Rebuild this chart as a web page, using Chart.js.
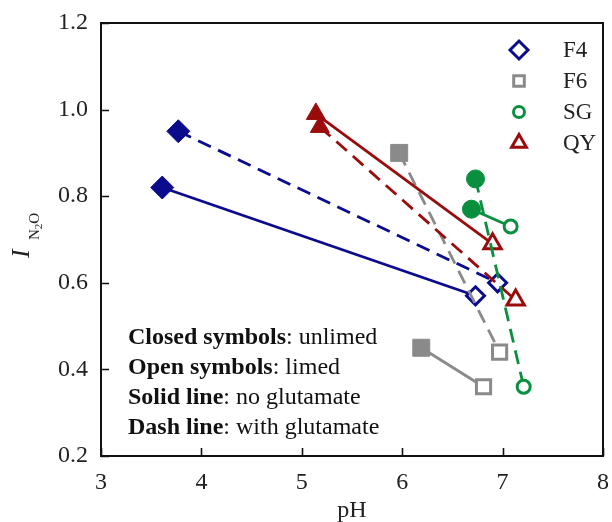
<!DOCTYPE html>
<html>
<head>
<meta charset="utf-8">
<script src="https://cdn.jsdelivr.net/npm/chart.js@4"></script>
<style>
  html, body { margin: 0; padding: 0; background: #fff; }
  #wrap { width: 612px; height: 522px; }
</style>
</head>
<body>
<div id="wrap"><canvas id="c" width="612" height="522"></canvas></div>
<script>
const SERIF = '"Liberation Serif", "DejaVu Serif", "Times New Roman", serif';

// Soils, their colours and marker shapes
const soils   = ['F4', 'F6', 'SG', 'QY'];
const colours = ['#0b0b8e', '#8a8a8a', '#0a8f3f', '#9a0b0b'];
const shapes  = ['rectRot', 'rect', 'circle', 'triangle'];
// marker radius: [closed, open]
const radii   = [[11.5, 9], [12, 10], [9, 6.5], [11, 10]];
const legendRadii = [9, 7.5, 5.5, 8.5];

// Each pair runs from the unlimed sample (closed) to the limed sample (open)
const F4_noGlu_pH   = [3.61, 6.73];  const F4_noGlu_I   = [0.82, 0.57];
const F4_glu_pH     = [3.77, 6.95];  const F4_glu_I     = [0.95, 0.60];
const F6_noGlu_pH   = [6.19, 6.81];  const F6_noGlu_I   = [0.45, 0.36];
const F6_glu_pH     = [5.97, 6.97];  const F6_glu_I     = [0.90, 0.44];
const SG_noGlu_pH   = [6.69, 7.08];  const SG_noGlu_I   = [0.77, 0.73];
const SG_glu_pH     = [6.73, 7.21];  const SG_glu_I     = [0.84, 0.36];
const QY_noGlu_pH   = [5.14, 6.90];  const QY_noGlu_I   = [0.99, 0.69];
const QY_glu_pH     = [5.18, 7.13];  const QY_glu_I     = [0.96, 0.56];

// Axis ticks
const xTicks = [3, 4, 5, 6, 7, 8];
const yTicks = [0.2, 0.4, 0.6, 0.8, 1.0, 1.2];

// Key text
const notes = [
  ['Closed symbols', ': unlimed'],
  ['Open symbols', ': limed'],
  ['Solid line', ': no glutamate'],
  ['Dash line', ': with glutamate']
];

const pairs = [
  { soil: 0, pH: F4_noGlu_pH, I: F4_noGlu_I, dashed: false },
  { soil: 0, pH: F4_glu_pH,   I: F4_glu_I,   dashed: true  },
  { soil: 1, pH: F6_noGlu_pH, I: F6_noGlu_I, dashed: false },
  { soil: 1, pH: F6_glu_pH,   I: F6_glu_I,   dashed: true  },
  { soil: 3, pH: QY_noGlu_pH, I: QY_noGlu_I, dashed: false },
  { soil: 3, pH: QY_glu_pH,   I: QY_glu_I,   dashed: true  },
  { soil: 2, pH: SG_noGlu_pH, I: SG_noGlu_I, dashed: false },
  { soil: 2, pH: SG_glu_pH,   I: SG_glu_I,   dashed: true  }
];

const datasets = pairs.map((p, i) => {
  const col = colours[p.soil];
  return {
    label: soils[p.soil] + (p.dashed ? ' glutamate' : ''),
    data: p.pH.map((x, k) => ({ x: x, y: p.I[k] })),
    showLine: true,
    borderColor: col,
    borderWidth: 2.8,
    borderDash: p.dashed ? [14, 8] : [],
    pointStyle: shapes[p.soil],
    pointRadius: radii[p.soil],
    pointHoverRadius: radii[p.soil],
    pointBackgroundColor: [col, '#ffffff'],
    pointBorderColor: col,
    pointBorderWidth: [1, 3],
    order: pairs.length - i
  };
});

// Frame, inward ticks, y title, key and legend
const decor = {
  id: 'decor',
  afterDraw(chart) {
    const ctx = chart.ctx;
    const a = chart.chartArea;
    const xs = chart.scales.x, ys = chart.scales.y;
    ctx.save();
    ctx.strokeStyle = '#111';
    ctx.lineWidth = 2;
    ctx.strokeRect(a.left, a.top, a.right - a.left, a.bottom - a.top);
    ctx.lineWidth = 1.6;
    ctx.beginPath();
    xTicks.forEach(v => {
      const px = Math.round(xs.getPixelForValue(v)) + 0.5;
      ctx.moveTo(px, a.bottom); ctx.lineTo(px, a.bottom - 8);
    });
    yTicks.forEach(v => {
      const py = Math.round(ys.getPixelForValue(v)) + 0.5;
      ctx.moveTo(a.left, py); ctx.lineTo(a.left + 8, py);
    });
    ctx.stroke();

    // y title: italic I with subscript N2O
    ctx.fillStyle = '#222';
    ctx.translate(29, 258);
    ctx.rotate(-Math.PI / 2);
    ctx.textBaseline = 'alphabetic';
    ctx.textAlign = 'left';
    ctx.font = 'italic 26px ' + SERIF;
    ctx.fillText('I', 0, 0);
    let u = 18;
    ctx.font = '15px ' + SERIF;
    ctx.fillText('N', u, 10);
    u += ctx.measureText('N').width;
    ctx.font = '11px ' + SERIF;
    ctx.fillText('2', u, 13);
    u += ctx.measureText('2').width;
    ctx.font = '15px ' + SERIF;
    ctx.fillText('O', u, 10);
    ctx.setTransform(1, 0, 0, 1, 0, 0);

    // key text
    ctx.fillStyle = '#111';
    ctx.textBaseline = 'middle';
    notes.forEach((n, i) => {
      const y = 338 + i * 30;
      ctx.font = 'bold 24px ' + SERIF;
      ctx.fillText(n[0], 128, y);
      const w = ctx.measureText(n[0]).width;
      ctx.font = '24px ' + SERIF;
      ctx.fillText(n[1], 128 + w, y);
    });

    // legend with open markers
    soils.forEach((s, i) => {
      const y = 50 + i * 31;
      const col = colours[i];
      ctx.strokeStyle = col;
      ctx.fillStyle = '#fff';
      ctx.lineWidth = 3;
      Chart.helpers.drawPoint(ctx, {
        pointStyle: shapes[i],
        radius: legendRadii[i],
        rotation: 0,
        borderWidth: 3
      }, 519, y);
      ctx.fillStyle = '#222';
      ctx.font = '23px ' + SERIF;
      ctx.textBaseline = 'middle';
      ctx.fillText(s, 563, y + 1);
    });
    ctx.restore();
  }
};

new Chart(document.getElementById('c'), {
  type: 'scatter',
  data: { datasets },
  plugins: [decor],
  options: {
    responsive: false,
    animation: false,
    devicePixelRatio: 1,
    layout: { autoPadding: false, padding: { top: 23, right: 9, left: 0, bottom: 0 } },
    plugins: { legend: { display: false }, tooltip: { enabled: false } },
    scales: {
      x: {
        type: 'linear', min: 3, max: 8,
        afterBuildTicks: s => { s.ticks = xTicks.map(v => ({ value: v })); },
        afterFit: s => { s.height = 66; s.paddingLeft = 0; s.paddingRight = 0; },
        grid: { display: false, drawTicks: false },
        border: { display: false },
        ticks: { color: '#222', padding: 12, font: { family: SERIF, size: 24 }, maxRotation: 0 },
        title: { display: true, text: 'pH', color: '#222', padding: { top: 0, bottom: -3 }, font: { family: SERIF, size: 24 } }
      },
      y: {
        type: 'linear', min: 0.2, max: 1.2,
        afterBuildTicks: s => { s.ticks = yTicks.map(v => ({ value: v })); },
        afterFit: s => { s.width = 101; s.paddingTop = 0; s.paddingBottom = 0; },
        grid: { display: false, drawTicks: false },
        border: { display: false },
        ticks: { color: '#222', padding: 13, font: { family: SERIF, size: 24 }, callback: v => v.toFixed(1) }
      }
    }
  }
});
</script>
</body>
</html>
